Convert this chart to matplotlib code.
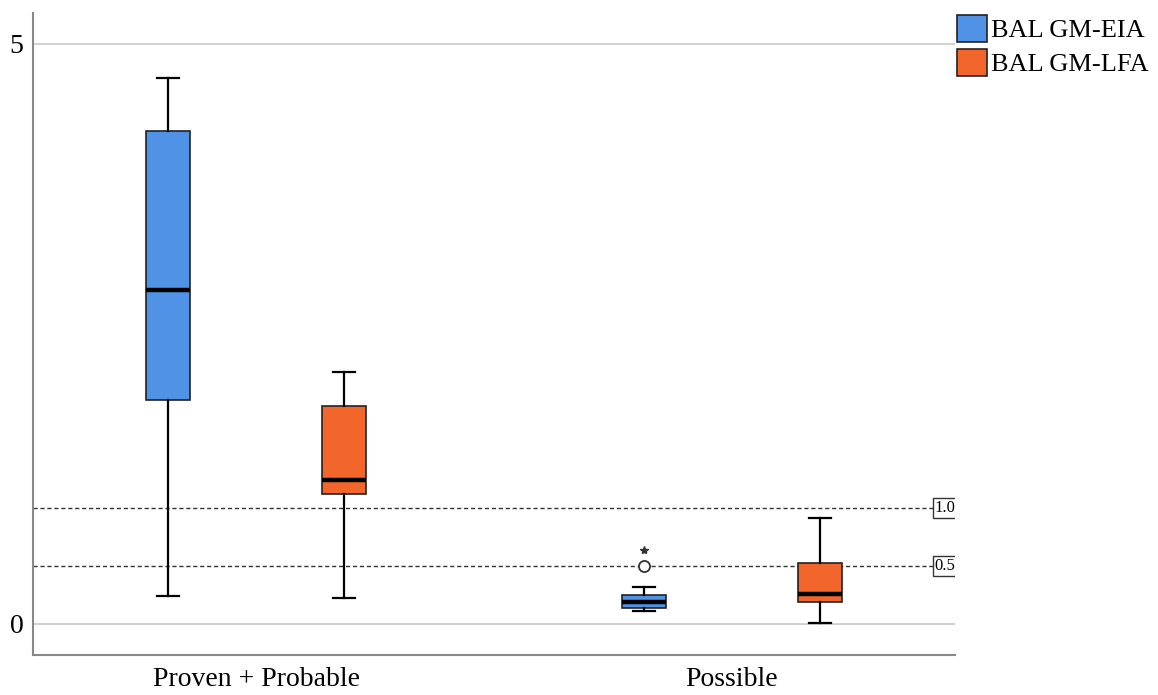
import matplotlib
matplotlib.use("Agg")
import matplotlib.pyplot as plt
import matplotlib.patches as mpatches

plt.rcParams['font.family'] = ['Liberation Serif', 'DejaVu Serif']

# ── Dados ───────────────────────────────────────────────────────────────
categorias = ["Proven + Probable", "Possible"]
series = ["BAL GM-EIA", "BAL GM-LFA"]
cores = ["#4f92e6", "#f2662c"]

# estatísticas por série: [grupo1, grupo2]
whislo = {"BAL GM-EIA": [0.24, 0.11], "BAL GM-LFA": [0.22, 0.01]}
q1 = {"BAL GM-EIA": [1.93, 0.14], "BAL GM-LFA": [1.12, 0.19]}
med = {"BAL GM-EIA": [2.88, 0.19], "BAL GM-LFA": [1.24, 0.26]}
q3 = {"BAL GM-EIA": [4.25, 0.25], "BAL GM-LFA": [1.88, 0.53]}
whishi = {"BAL GM-EIA": [4.71, 0.32], "BAL GM-LFA": [2.17, 0.91]}

# outliers (círculo) e extremos (estrela) — só em Possible / EIA
outlier_y = [0.50]
extremo_y = [0.64]

linhas_ref = [1.0, 0.5]
yticks = [0, 5]

# ── Figura ──────────────────────────────────────────────────────────────
fig = plt.figure(figsize=(11.58, 6.95), dpi=100)
ax = fig.add_axes([0.0285, 0.0576, 0.7962, 0.9237])

offset = 0.185
largura = 0.092

for j, s in enumerate(series):
    stats = []
    for i in range(len(categorias)):
        stats.append(dict(whislo=whislo[s][i], q1=q1[s][i], med=med[s][i],
                          q3=q3[s][i], whishi=whishi[s][i], fliers=[]))
    pos = [i + 1 + (j * 2 - 1) * offset for i in range(len(categorias))]
    ax.bxp(stats, positions=pos, widths=largura, capwidths=largura * 0.52,
           patch_artist=True, showfliers=False,
           boxprops=dict(facecolor=cores[j], edgecolor='#222222', linewidth=1.2),
           medianprops=dict(color='black', linewidth=3.2),
           whiskerprops=dict(color='black', linewidth=1.6),
           capprops=dict(color='black', linewidth=1.6))

x_out = 2 - offset
ax.plot([x_out] * len(outlier_y), outlier_y, 'o', mfc='white', mec='#333333',
        ms=8, mew=1.3, zorder=5)
ax.plot([x_out] * len(extremo_y), extremo_y, '*', color='#333333', ms=6, zorder=5)

# linhas de referência
for v in linhas_ref:
    ax.axhline(v, color='#333333', linestyle=(0, (3, 2)), linewidth=1.0, zorder=1)
    ax.text(2.426, v, f"{v:.1f}", fontsize=12, ha='left', va='center',
            clip_on=True, zorder=6,
            bbox=dict(boxstyle='square,pad=0.12', facecolor='white',
                      edgecolor='#333333', linewidth=1.0))

for v in yticks:
    ax.axhline(v, color='#c8c8c8', linewidth=1.2, zorder=0)

ax.set_xlim(0.5315, 2.4685)
ax.set_ylim(-0.267, 5.267)
ax.set_yticks(yticks)
ax.set_yticklabels([str(v) for v in yticks], fontsize=20)
ax.set_xticks([1, 2])
ax.set_xticklabels(categorias, fontsize=20)
ax.tick_params(axis='x', length=0, pad=9)
ax.tick_params(axis='y', length=0, pad=7)

for lado in ['top', 'right']:
    ax.spines[lado].set_visible(False)
for lado in ['left', 'bottom']:
    ax.spines[lado].set_color('#888888')
    ax.spines[lado].set_linewidth(1.5)

handles = [mpatches.Patch(facecolor=c, edgecolor='#222222', linewidth=1.2, label=s)
           for s, c in zip(series, cores)]
fig.legend(handles=handles, loc='upper left', bbox_to_anchor=(0.826, 0.979),
           frameon=False, fontsize=19, handlelength=1.15, handleheight=1.2,
           handletextpad=0.15, labelspacing=0.25, borderpad=0.0,
           borderaxespad=0.0)

fig.savefig("out.png", dpi=100, facecolor='white')
